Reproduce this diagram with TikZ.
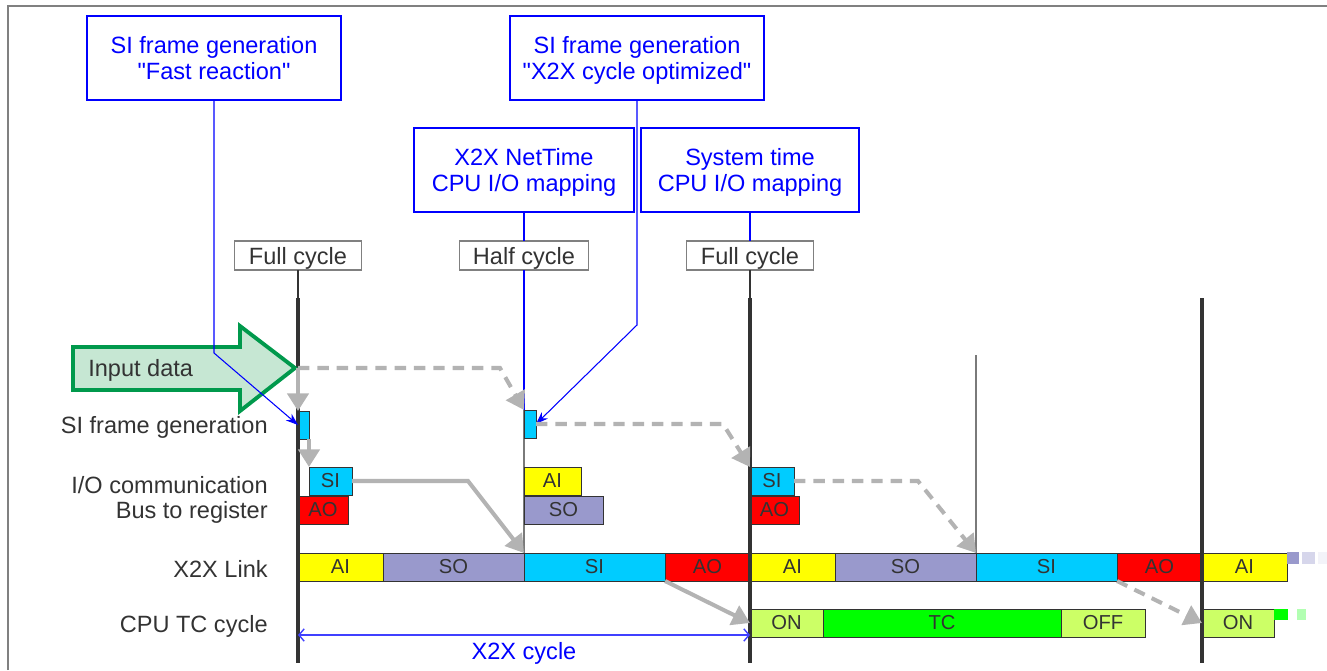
\documentclass[tikz,border=0pt]{standalone}
\usepackage{fontspec}
\newfontfamily\arial{Liberation Sans}
\usetikzlibrary{arrows.meta,calc}
\definecolor{txtgray}{HTML}{333333}
\definecolor{framegray}{HTML}{808080}
\definecolor{flowgray}{HTML}{B3B3B3}
\definecolor{infoblue}{HTML}{0000FF}
\definecolor{aiyellow}{HTML}{FFFF00}
\definecolor{solav}{HTML}{9999CC}
\definecolor{sicyan}{HTML}{00CCFF}
\definecolor{aored}{HTML}{FF0000}
\definecolor{onlime}{HTML}{CCFF66}
\definecolor{tcgreen}{HTML}{00FF00}
\definecolor{inpfill}{HTML}{C6E7D3}
\definecolor{inpgreen}{HTML}{00994C}
\newcommand\lblfont{\arial\fontsize{13.4}{15.3}\selectfont}
\newcommand\segfont{\arial\fontsize{11.5}{13}\selectfont}
\tikzset{
    boxw/.style = {minimum width=#1*0.02cm},
    infobox/.style = {draw=infoblue, line width=0.7pt, text=infoblue, align=center,
        font=\lblfont, minimum height=1.68cm, inner sep=0pt, outer sep=0pt, text depth=0pt},
    cyclebox/.style = {draw=framegray, line width=0.7pt, fill=white, text=txtgray,
        font=\lblfont, minimum height=0.58cm, inner sep=0pt, outer sep=0pt, text depth=0pt},
    rowlbl/.style = {anchor=east, text=txtgray, font=\lblfont, inner sep=0pt},
    seg/.style = {draw=txtgray, line width=0.5pt, text=txtgray, font=\segfont,
        minimum height=0.56cm, inner sep=0pt, outer sep=0pt, anchor=north west},
    inarrow/.style = {draw=inpgreen, fill=inpfill, line width=2.2pt, line join=miter},
    cycleln/.style = {txtgray, line width=2.1pt},
    thinln/.style = {txtgray, line width=0.6pt},
    infoln/.style = {infoblue, line width=0.6pt},
    flow/.style = {flowgray, line width=2.3pt, -{Triangle[width=12pt,length=10pt]}},
    flowdash/.style = {flow, dash pattern=on 6.5pt off 4.5pt},
}
\begin{document}
\begin{tikzpicture}[x=0.02cm, y=-0.02cm]
\useasboundingbox (0,0) rectangle (1327,670);
\draw[framegray, line width=1.1pt] (8,670) -- (8,6) -- (1327,6);

\node[infobox, boxw=254] (fastbox) at (214,58) {SI frame generation\\"Fast reaction"};
\node[infobox, boxw=254] (optbox) at (637,58) {SI frame generation\\"X2X cycle optimized"};
\node[infobox, boxw=220] (netbox) at (524,170) {X2X NetTime\\CPU I/O mapping};
\node[infobox, boxw=218] (sysbox) at (750,170) {System time\\CPU I/O mapping};

\node[cyclebox, boxw=127] (full1) at (298,255.5) {Full cycle};
\node[cyclebox, boxw=129] (half) at (524,255.5) {Half cycle};
\node[cyclebox, boxw=127] (full2) at (750,255.5) {Full cycle};

\node[rowlbl] (rsif) at (268,427) {SI frame generation};
\node[rowlbl] (rio) at (268,485) {I/O communication};
\node[rowlbl] (rbus) at (268,512) {Bus to register};
\node[rowlbl] (rlink) at (268,569) {X2X Link};
\node[rowlbl] (rtc) at (268,626) {CPU TC cycle};

\node[seg, boxw=11, fill=sicyan] (sif1) at (298,411) {};
\node[seg, boxw=12, fill=sicyan] (sif2) at (524,410) {};

\node[seg, boxw=43, fill=sicyan] (sio1) at (309,467) {SI};
\node[seg, boxw=50, fill=aored] (aor1) at (298,496) {AO};
\node[seg, boxw=57, fill=aiyellow] (aii2) at (524,467) {AI};
\node[seg, boxw=79, fill=solav] (sor2) at (524,496) {SO};
\node[seg, boxw=44, fill=sicyan] (sio3) at (750,467) {SI};
\node[seg, boxw=49, fill=aored] (aor3) at (750,496) {AO};

\node[seg, boxw=85, fill=aiyellow] (lai1) at (298,553) {AI};
\node[seg, boxw=141, fill=solav] (lso1) at (lai1.north east) {SO};
\node[seg, boxw=141, fill=sicyan] (lsi1) at (lso1.north east) {SI};
\node[seg, boxw=85, fill=aored] (lao1) at (lsi1.north east) {AO};
\node[seg, boxw=85, fill=aiyellow] (lai2) at (lao1.north east) {AI};
\node[seg, boxw=141, fill=solav] (lso2) at (lai2.north east) {SO};
\node[seg, boxw=141, fill=sicyan] (lsi2) at (lso2.north east) {SI};
\node[seg, boxw=85, fill=aored] (lao2) at (lsi2.north east) {AO};
\node[seg, boxw=85, fill=aiyellow] (lai3) at (lao2.north east) {AI};
\fill[solav] (1287,552) rectangle (1299,564);
\fill[solav!40] (1302,552) rectangle (1315,564);
\fill[solav!12] (1318,552) rectangle (1327,564);

\node[seg, boxw=73, fill=onlime] (lon1) at (750,609) {ON};
\node[seg, boxw=238, fill=tcgreen] (ltc1) at (lon1.north east) {TC};
\node[seg, boxw=84, fill=onlime] (loff1) at (ltc1.north east) {OFF};
\node[seg, boxw=72, fill=onlime] (lon2) at (1202,609) {ON};
\fill[tcgreen] (1274,609) rectangle (1288,620);
\fill[tcgreen!30] (1297,609) rectangle (1306,620);

\coordinate (t0) at (298,298);
\coordinate (b0) at (298,663);
\coordinate (t2) at (750,298);
\coordinate (b2) at (750,663);
\coordinate (t3) at (976,355);
\coordinate (t4) at (1202,298);
\coordinate (b4) at (1202,663);

\draw[thinln] (full1.south) -- (t0);
\draw[cycleln] (t0) -- (b0);
\draw[infoln] (netbox.south) -- (half.north);
\draw[infoln] (half.south) -- (sif2.north west);
\draw[thinln] (sif2.north west) -- (lsi1.north west);
\draw[infoln] (sysbox.south) -- (full2.north);
\draw[thinln] (full2.south) -- (t2);
\draw[cycleln] (t2) -- (b2);
\draw[thinln] (t3) -- (lsi2.north west);
\draw[cycleln] (t4) -- (b4);

\coordinate (inp) at (298,368);
\draw[inarrow] (73,347) -- (240,347) -- (240,326) -- ($(inp)+(-3,0)$) -- (240,411)
    -- (240,390) -- (73,390) -- cycle;
\node[anchor=west, text=txtgray, font=\lblfont, inner sep=0pt] (inplbl) at (88,370) {Input data};

\draw[infoln, -{Stealth[length=7pt,width=5pt]}] (fastbox.south) -- ++(0,253) -- (sif1.west);
\draw[infoln, -{Stealth[length=7pt,width=5pt]}] (optbox.south) -- ++(0,225) -- (sif2.east);

\draw[flow] (inp) -- (sif1.north west);
\draw[flow] (sif1.south east) -- (sif1.south east |- sio1.north);
\draw[flow] (sio1.east) -- ++(116,0) -- (lsi1.north west);
\draw[flowdash] (inp) -- ++(202,0) -- (sif2.north west);
\draw[flowdash] (sif2.east) -- ++(187,0) -- (sio3.north west);
\draw[flowdash] (sio3.east) -- ++(124,0) -- (lsi2.north west);
\draw[flow] (lao1.south west) -- (lon1.west);
\draw[flowdash] (lao2.south west) -- (lon2.west);

\coordinate (dl) at (298,635);
\coordinate (dr) at (750,635);
\draw[infoblue!75, line width=0.8pt, {Straight Barb[length=3pt,width=7pt]}-{Straight Barb[length=3pt,width=7pt]}] (dl) -- (dr);
\node[text=infoblue, font=\lblfont, inner sep=0pt] (cyclbl) at (524,653) {X2X cycle};
\end{tikzpicture}
\end{document}
